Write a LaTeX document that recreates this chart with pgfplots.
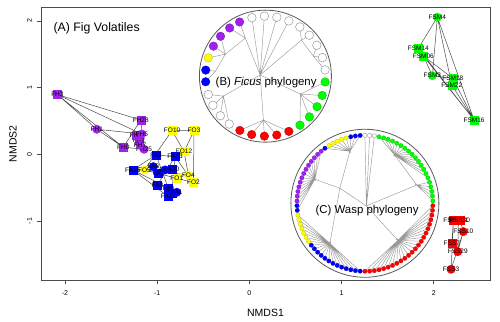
\documentclass[border=0pt]{standalone}
\usepackage{fontspec}
\setmainfont{Liberation Sans}
\usepackage{pgfplots}
\pgfplotsset{compat=1.18}
\usepgfplotslibrary{polar}
\definecolor{purp}{HTML}{A020F0}
\definecolor{grn}{HTML}{00FF00}
\definecolor{blu}{HTML}{0000FF}
\definecolor{yel}{HTML}{FFFF00}
\definecolor{rd}{HTML}{FF0000}
\pgfplotsset{
  lab/.style={nodes near coords, point meta=explicit symbolic,
    every node near coord/.style={anchor=center, inner sep=0pt, text=black, font=\fontsize{6.5}{6.5}\selectfont}},
  sq/.style={only marks, mark=square*, mark size=4pt, mark options={fill=#1, draw=#1}, lab},
  ci/.style={only marks, mark=*, mark size=4.2pt, mark options={fill=#1, draw=#1}, lab},
  edge/.style={black!70, line width=0.5pt, unbounded coords=jump, mark=none},
  tree/.style={black!40, line width=0.45pt, mark=none},
}
\begin{document}
\begin{tikzpicture}
\useasboundingbox (-41pt,-41pt) rectangle (459pt,280pt);
\begin{axis}[
  at={(0,0)}, anchor=south west,
  width=449pt, height=272.5pt, scale only axis,
  xmin=-2.26, xmax=2.61, ymin=-1.885, ymax=2.20,
  xtick={-2,-1,0,1,2}, ytick={-1,0,1,2},
  tick align=outside, tick pos=left, major tick length=4pt,
  every tick/.style={black!70, line width=0.6pt},
  axis line style={black!70, line width=0.7pt},
  /pgf/number format/assume math mode=true,
  xticklabel style={font=\fontsize{7}{7}\selectfont, yshift=-3pt},
  yticklabel style={font=\fontsize{7}{7}\selectfont, rotate=90, anchor=south, xshift=0pt, yshift=1.5pt},
  xlabel={NMDS1}, ylabel={NMDS2},
  label style={font=\fontsize{10.5}{11}\selectfont},
  xlabel style={at={(axis description cs:0.5,-0.1193)}, anchor=center},
  ylabel style={at={(axis description cs:-0.0624,0.5)}, anchor=center},
  clip=false,
]
% connecting lines
\addplot[edge] coordinates {
(-2.082,0.894)(-1.178,0.514)(nan,nan)
(-2.082,0.894)(-1.167,0.304)(nan,nan)
(-2.082,0.894)(-1.367,0.105)(nan,nan)
(-2.082,0.894)(-1.655,0.375)(nan,nan)
(-1.655,0.375)(-1.167,0.304)(nan,nan)
(-1.655,0.375)(-1.367,0.105)(nan,nan)
(-1.178,0.514)(-1.367,0.105)(nan,nan)
(-1.178,0.514)(-1.142,0.075)(nan,nan)
(-1.367,0.105)(-1.142,0.075)(nan,nan)
(-1.229,0.289)(-1.142,0.075)(nan,nan)
};
\addplot[edge] coordinates {
(-0.838,0.354)(-0.600,0.354)(nan,nan)
(-0.600,0.354)(-0.607,-0.426)(nan,nan)
(-0.607,-0.426)(-0.787,-0.360)(nan,nan)
(-0.787,-0.360)(-1.139,-0.235)(nan,nan)
(-1.139,-0.235)(-0.838,0.354)(nan,nan)
(-0.838,0.354)(-0.708,0.039)(nan,nan)
(-0.708,0.039)(-0.662,-0.310)(nan,nan)
(-0.600,0.354)(-0.708,0.039)(nan,nan)
(-1.139,-0.235)(-0.662,-0.310)(nan,nan)
(-1.265,-0.235)(-1.012,-0.010)(nan,nan)
(-1.012,-0.010)(-0.806,-0.036)(nan,nan)
(-0.806,-0.036)(-0.842,-0.585)(nan,nan)
(-0.842,-0.585)(-0.879,-0.636)(nan,nan)
(-0.879,-0.636)(-1.265,-0.235)(nan,nan)
(-1.265,-0.235)(-0.842,-0.225)(nan,nan)
(-1.012,-0.010)(-0.879,-0.510)(nan,nan)
(-0.806,-0.036)(-0.998,-0.460)(nan,nan)
(-1.265,-0.235)(-0.787,-0.570)(nan,nan)
(-0.806,-0.036)(-0.607,-0.426)(nan,nan)
};
\addplot[edge] coordinates {
(2.039,2.054)(1.833,1.589)(nan,nan)
(2.039,2.054)(1.985,1.178)(nan,nan)
(2.039,2.054)(2.437,0.514)(nan,nan)
(2.039,2.054)(2.195,1.039)(nan,nan)
(1.833,1.589)(1.887,1.474)(nan,nan)
(1.833,1.589)(2.437,0.514)(nan,nan)
(1.887,1.474)(2.206,1.139)(nan,nan)
(1.887,1.474)(2.437,0.514)(nan,nan)
(1.985,1.178)(2.206,1.139)(nan,nan)
(1.985,1.178)(1.887,1.474)(nan,nan)
(2.195,1.039)(2.437,0.514)(nan,nan)
(2.206,1.139)(2.437,0.514)(nan,nan)
};
\addplot[edge] coordinates {
(2.213,-0.996)(2.188,-1.724)(nan,nan)
(2.285,-0.996)(2.321,-1.160)(nan,nan)
(2.321,-1.160)(2.188,-1.724)(nan,nan)
(2.213,-0.996)(2.195,-1.334)(nan,nan)
(2.195,-1.334)(2.260,-1.460)(nan,nan)
(2.321,-1.160)(2.260,-1.460)(nan,nan)
(2.267,-0.985)(2.260,-1.460)(nan,nan)
(2.213,-0.996)(2.285,-0.996)(nan,nan)
};
% points
\addplot[sq=purp] table[meta=lab] {
x y lab
-2.082 0.894 FH3
-1.178 0.514 FH28
-1.367 0.105 FH0
-1.200 0.214 FH2
-1.229 0.289 FH9
};
\addplot[ci=purp] table[meta=lab] {
x y lab
-1.655 0.375 FH1
-1.167 0.304 FH5
-1.142 0.075 FH25
-1.185 0.139 FH7
};
\addplot[sq=yel] table[meta=lab] {
x y lab
-0.838 0.354 FO10
-0.600 0.354 FO3
-0.708 0.039 FO12
-0.607 -0.426 FO2
-0.787 -0.360 FO1
};
\addplot[ci=yel] table[meta=lab] {
x y lab
-0.662 -0.310 FO4
-1.139 -0.235 FO5
};
\addplot[sq=blu] table[meta=lab] {
x y lab
-1.012 -0.010 FA8
-0.806 -0.036 FA13
-1.265 -0.235 FA15
-0.987 -0.285 FA2
-0.842 -0.225 FA20
-0.998 -0.460 FA3
-0.879 -0.510 FA9
-0.842 -0.585 FA4
-0.879 -0.636 FA11
};
\addplot[ci=blu] table[meta=lab] {
x y lab
-1.041 -0.186 FA6
-0.914 -0.235 FA5
-0.787 -0.570 FA1
};
\addplot[sq=grn] table[meta=lab] {
x y lab
1.833 1.589 FSM14
1.887 1.474 FSM06
2.206 1.139 FSM18
2.195 1.039 FSM22
2.437 0.514 FSM16
};
\addplot[ci=grn] table[meta=lab] {
x y lab
2.039 2.054 FSM4
1.985 1.178 FSM3
};
\addplot[sq=rd] table[meta=lab] {
x y lab
2.213 -0.996 FSS33
2.267 -0.985 FSS31
2.285 -0.996 FSS30
2.195 -1.334 FSS7
};
\addplot[ci=rd] table[meta=lab] {
x y lab
2.321 -1.160 FSS10
2.260 -1.460 FSS29
2.188 -1.724 FSS3
};
\node[anchor=west, font=\fontsize{12.3}{13}\selectfont] at (axis cs:-2.162,1.894) {(A) Fig Volatiles};
\coordinate (Bc) at (axis cs:0.174,1.171);
\coordinate (Cc) at (axis cs:1.253,-0.735);
\end{axis}

% ---------- (B) Ficus phylogeny ----------
\begin{polaraxis}[at={(Bc)}, anchor=center, width=132pt, height=132pt, scale only axis,
  ymin=0, ymax=66, xtick=\empty, ytick=\empty,
  axis line style={black!65, line width=0.8pt}, y axis line style={draw=none}, clip=false]
\addplot[tree] coordinates {(167,5.4)(103,60)(167,5.4)(91,60)(167,5.4)(79,60)(167,5.4)(67,60)(167,5.4)(117.8,43)(167,5.4)(45,50.9)(167,5.4)(332.8,39.4)(167,5.4)(267.4,44)(167,5.4)(205.5,46.5)};
\addplot[tree] coordinates {(117.8,43)(115.5,60)(117.8,43)(126.6,60)(117.8,43)(151.2,45.7)};
\addplot[tree] coordinates {(151.2,45.7)(138.4,60)(151.2,45.7)(150,60)(151.2,45.7)(162.3,60)(151.2,45.7)(174.3,50.2)};
\addplot[tree] coordinates {(174.3,50.2)(174.2,60)(174.3,50.2)(185.4,60)};
\addplot[tree] coordinates {(45,50.9)(55,60)(45,50.9)(43,60)(45,50.9)(22.6,52)};
\addplot[tree] coordinates {(22.6,52)(31,60)(22.6,52)(18,60)(22.6,52)(6,60)};
\addplot[tree] coordinates {(332.8,39.4)(305.2,60)(332.8,39.4)(317.2,60)(332.8,39.4)(329.4,60)(332.8,39.4)(341.2,60)(332.8,39.4)(354.4,60)};
\addplot[tree] coordinates {(267.4,44)(244.8,60)(267.4,44)(256.8,60)(267.4,44)(269,60)(267.4,44)(280.9,60)(267.4,44)(293,60)};
\addplot[tree] coordinates {(205.5,46.5)(197.8,60)(205.5,46.5)(209,60)(205.5,46.5)(221.3,60)(205.5,46.5)(233,60)};
\addplot[only marks, mark=*, mark size=4.3pt, mark options={fill=white, draw=black!40, line width=0.5pt}] coordinates {(103,60)(91,60)(79,60)(67,60)(55,60)(43,60)(31,60)(18,60)(6,60)(197.8,60)(209,60)(221.3,60)(233,60)};
\addplot[only marks, mark=*, mark size=4.3pt, mark options={fill=purp, draw=purp!70!black, line width=0.3pt}] coordinates {(115.5,60)(126.6,60)(138.4,60)(150,60)};
\addplot[only marks, mark=*, mark size=4.3pt, mark options={fill=yel, draw=yel!70!black, line width=0.3pt}] coordinates {(162.3,60)};
\addplot[only marks, mark=*, mark size=4.3pt, mark options={fill=blu, draw=blu!70!black, line width=0.3pt}] coordinates {(174.2,60)(185.4,60)};
\addplot[only marks, mark=*, mark size=4.3pt, mark options={fill=rd, draw=rd!70!black, line width=0.3pt}] coordinates {(244.8,60)(256.8,60)(269,60)(280.9,60)(293,60)};
\addplot[only marks, mark=*, mark size=4.3pt, mark options={fill=grn, draw=grn!70!black, line width=0.3pt}] coordinates {(305.2,60)(317.2,60)(329.4,60)(341.2,60)(354.4,60)};
\end{polaraxis}

% ---------- (C) Wasp phylogeny ----------
\begin{polaraxis}[at={(Cc)}, anchor=center, width=148pt, height=148pt, scale only axis,
  ymin=0, ymax=74, xtick=\empty, ytick=\empty,
  axis line style={black!65, line width=0.8pt}, y axis line style={draw=none}, clip=false]
\addplot[tree] coordinates {(300,3)(90,68)(300,3)(86,68)(300,3)(82,68)(300,3)(19.4,55)(300,3)(311.7,49.6)(300,3)(149,29.2)};
\addplot[tree] coordinates {(19.4,55)(2,68)(19.4,55)(6,68)(19.4,55)(10,68)(19.4,55)(14,68)(19.4,55)(18,68)(19.4,55)(58,56.6)};
\addplot[tree] coordinates {(58,56.6)(22,68)(58,56.6)(26,68)(58,56.6)(30,68)(58,56.6)(34,68)(58,56.6)(38,68)(58,56.6)(42,68)(58,56.6)(46,68)(58,56.6)(50,68)(58,56.6)(54,68)(58,56.6)(58,68)(58,56.6)(62,68)(58,56.6)(66,68)(58,56.6)(70,68)(58,56.6)(74,68)(58,56.6)(78,68)};
\addplot[tree] coordinates {(311.7,49.6)(270,68)(311.7,49.6)(274,68)(311.7,49.6)(278,68)(311.7,49.6)(282,68)(311.7,49.6)(286,68)(311.7,49.6)(290,68)(311.7,49.6)(294,68)(311.7,49.6)(298,68)(311.7,49.6)(302,68)(311.7,49.6)(306,68)(311.7,49.6)(310,68)(311.7,49.6)(314,68)(311.7,49.6)(318,68)(311.7,49.6)(322,68)(311.7,49.6)(326,68)(311.7,49.6)(330,68)(311.7,49.6)(334,68)(311.7,49.6)(338,68)(311.7,49.6)(342,68)(311.7,49.6)(346,68)(311.7,49.6)(350,68)(311.7,49.6)(354,68)(311.7,49.6)(358,68)};
\addplot[tree] coordinates {(149,29.2)(154.4,55.5)(149,29.2)(106.1,54.1)(149,29.2)(228.8,53.2)};
\addplot[tree] coordinates {(154.4,55.5)(130,68)(154.4,55.5)(134,68)(154.4,55.5)(138,68)(154.4,55.5)(142,68)(154.4,55.5)(146,68)(154.4,55.5)(150,68)(154.4,55.5)(154,68)(154.4,55.5)(158,68)(154.4,55.5)(162,68)(154.4,55.5)(166,68)(154.4,55.5)(170,68)(154.4,55.5)(174,68)(154.4,55.5)(178,68)(154.4,55.5)(182,68)(154.4,55.5)(186,68)};
\addplot[tree] coordinates {(106.1,54.1)(94,68)(106.1,54.1)(98,68)(106.1,54.1)(102,68)(106.1,54.1)(106,68)(106.1,54.1)(110,68)(106.1,54.1)(114,68)(106.1,54.1)(118,68)(106.1,54.1)(122,68)(106.1,54.1)(126,68)};
\addplot[tree] coordinates {(228.8,53.2)(190,68)(228.8,53.2)(194,68)(228.8,53.2)(198,68)(228.8,53.2)(202,68)(228.8,53.2)(206,68)(228.8,53.2)(210,68)(228.8,53.2)(214,68)(228.8,53.2)(218,68)(228.8,53.2)(222,68)(228.8,53.2)(226,68)(228.8,53.2)(230,68)(228.8,53.2)(234,68)(228.8,53.2)(238,68)(228.8,53.2)(242,68)(228.8,53.2)(246,68)(228.8,53.2)(250,68)(228.8,53.2)(254,68)(228.8,53.2)(258,68)(228.8,53.2)(262,68)(228.8,53.2)(266,68)};
\addplot[only marks, mark=*, mark size=2.2pt, mark options={fill=white, draw=black!40, line width=0.4pt}] coordinates {(82,68)(86,68)(90,68)};
\addplot[only marks, mark=*, mark size=2.2pt, mark options={fill=grn, draw=grn!70!black, line width=0.2pt}] coordinates {(2,68)(6,68)(10,68)(14,68)(18,68)(22,68)(26,68)(30,68)(34,68)(38,68)(42,68)(46,68)(50,68)(54,68)(58,68)(62,68)(66,68)(70,68)(74,68)(78,68)};
\addplot[only marks, mark=*, mark size=2.2pt, mark options={fill=rd, draw=rd!70!black, line width=0.2pt}] coordinates {(270,68)(274,68)(278,68)(282,68)(286,68)(290,68)(294,68)(298,68)(302,68)(306,68)(310,68)(314,68)(318,68)(322,68)(326,68)(330,68)(334,68)(338,68)(342,68)(346,68)(350,68)(354,68)(358,68)};
\addplot[only marks, mark=*, mark size=2.2pt, mark options={fill=blu, draw=blu!70!black, line width=0.2pt}] coordinates {(94,68)(98,68)(102,68)(126,68)(182,68)(186,68)(218,68)(222,68)(226,68)(230,68)(234,68)(238,68)(242,68)(246,68)(250,68)(254,68)(258,68)(262,68)(266,68)};
\addplot[only marks, mark=*, mark size=2.2pt, mark options={fill=yel, draw=yel!70!black, line width=0.2pt}] coordinates {(106,68)(110,68)(114,68)(118,68)(122,68)(190,68)(194,68)(198,68)(202,68)(206,68)(210,68)(214,68)};
\addplot[only marks, mark=*, mark size=2.2pt, mark options={fill=purp, draw=purp!70!black, line width=0.2pt}] coordinates {(130,68)(134,68)(138,68)(142,68)(146,68)(150,68)(154,68)(158,68)(162,68)(166,68)(170,68)(174,68)(178,68)};
\end{polaraxis}

\node[font=\fontsize{11.4}{12}\selectfont] at ([xshift=0.7pt,yshift=-6.5pt]Bc) {(B) \textit{Ficus} phylogeny};
\node[font=\fontsize{11.4}{12}\selectfont] at ([xshift=2.2pt,yshift=-7.4pt]Cc) {(C) Wasp phylogeny};
\end{tikzpicture}
\end{document}
